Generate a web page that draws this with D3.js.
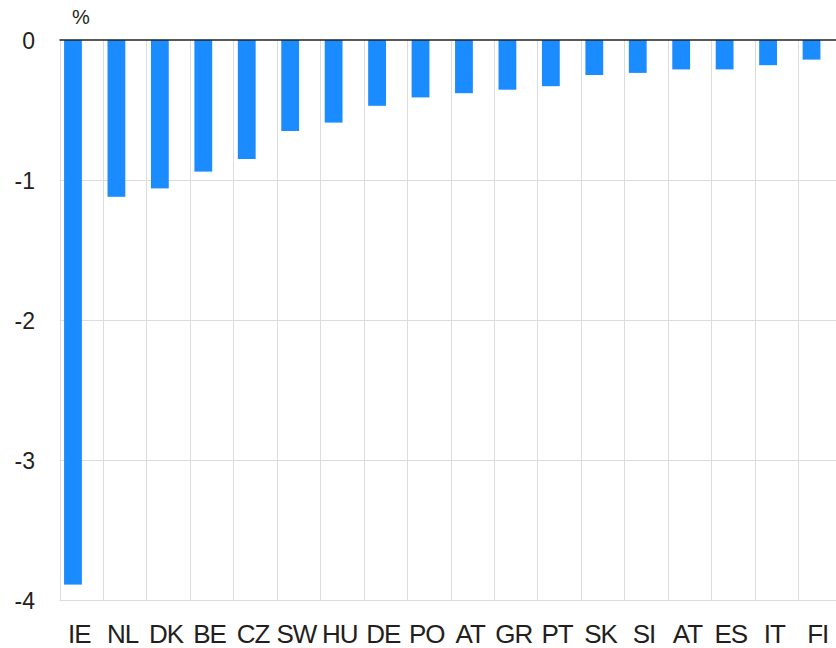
<!DOCTYPE html>
<html>
<head>
<meta charset="utf-8">
<script src="https://cdn.jsdelivr.net/npm/d3@7"></script>
<style>
  html, body { margin: 0; padding: 0; background: #fff; }
  svg { display: block; font-family: "Liberation Sans", "DejaVu Sans", sans-serif; }
</style>
</head>
<body>
<svg id="chart" width="836" height="648"></svg>
<script>
// Country codes, in drawing order
const countries = ["IE", "NL", "DK", "BE", "CZ", "SW", "HU", "DE", "PO", "AT", "GR", "PT", "SK", "SI", "AT", "ES", "IT", "FI"];
// Change, in percent
const values = [-3.89, -1.12, -1.06, -0.94, -0.85, -0.65, -0.59, -0.47, -0.41, -0.38, -0.355, -0.33, -0.25, -0.235, -0.21, -0.21, -0.18, -0.14];
// Y axis ticks
const yTicks = [0, -1, -2, -3, -4];
const unitLabel = "%";

const svg = d3.select("#chart");
const margin = { top: 40, left: 59.5 };
const plotW = 782, plotH = 560;
const textColor = "#231f20";

const x = d3.scaleBand()
  .domain(d3.range(countries.length))
  .range([margin.left, margin.left + plotW])
  .paddingInner(0).paddingOuter(0);

const y = d3.scaleLinear().domain([0, -4]).range([margin.top, margin.top + plotH]);

// horizontal grid
svg.append("g").selectAll("line").data(yTicks.filter(t => t !== 0)).join("line")
  .attr("x1", margin.left).attr("x2", margin.left + plotW)
  .attr("y1", d => Math.round(y(d)) + 0.5).attr("y2", d => Math.round(y(d)) + 0.5)
  .attr("stroke", "#dcdcdc").attr("stroke-width", 1);

// vertical grid at category boundaries
svg.append("g").selectAll("line").data(d3.range(countries.length + 1)).join("line")
  .attr("x1", i => Math.round(margin.left + i * x.bandwidth()) + 0.5)
  .attr("x2", i => Math.round(margin.left + i * x.bandwidth()) + 0.5)
  .attr("y1", margin.top).attr("y2", y(-4) + 0.5)
  .attr("stroke", "#dcdcdc").attr("stroke-width", 1);

// bars
const bw = x.bandwidth();
svg.append("g").selectAll("rect").data(values).join("rect")
  .attr("x", (d, i) => x(i) + bw * 0.105)
  .attr("width", bw * 0.41)
  .attr("y", y(0))
  .attr("height", d => y(d) - y(0))
  .attr("fill", "#1b8cff");

// zero line
svg.append("line")
  .attr("x1", margin.left).attr("x2", margin.left + plotW)
  .attr("y1", y(0)).attr("y2", y(0))
  .attr("stroke", "#222").attr("stroke-width", 1.3);

// y tick labels
svg.append("g").selectAll("text").data(yTicks).join("text")
  .attr("x", 35).attr("y", d => y(d) + 1)
  .attr("dy", "0.36em")
  .attr("text-anchor", "end")
  .attr("font-size", 23)
  .attr("fill", textColor)
  .text(d => d3.format("d")(d).replace("−", "-"));

// unit label
svg.append("text")
  .attr("x", 81).attr("y", 24)
  .attr("text-anchor", "middle")
  .attr("font-size", 20)
  .attr("fill", textColor)
  .text(unitLabel);

// category labels
svg.append("g").selectAll("text").data(countries).join("text")
  .attr("x", (d, i) => x(i) + bw / 2 - 2)
  .attr("y", 643)
  .attr("text-anchor", "middle")
  .attr("font-size", 26)
  .attr("letter-spacing", -1)
  .attr("fill", textColor)
  .text(d => d);
</script>
</body>
</html>
